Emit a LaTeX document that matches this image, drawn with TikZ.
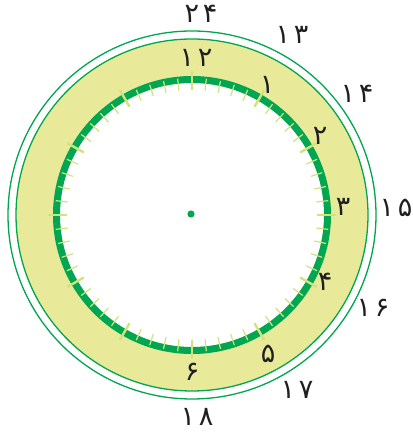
\documentclass[tikz,border=0pt]{standalone}
\usepackage{fontspec}
\newfontfamily\fa[LetterSpace=14]{DejaVu Sans}
\definecolor{ringgreen}{HTML}{00A650}
\definecolor{ringyellow}{HTML}{E8EA9A}
\definecolor{tickcol}{HTML}{D2E27E}
\begin{document}
\begin{tikzpicture}[x=1pt,y=1pt,
  lbl/.style={font=\fa\fontsize{27}{27}\selectfont, text=black!88, inner sep=0pt},
  thinring/.style={draw=ringgreen, line width=1.3pt}]
\useasboundingbox (-192,-220) rectangle (220,215);
% outer thin circle
\draw[thinring] (0,0) circle (184);
% yellow band with green edge
\fill[ringyellow] (0,0) circle (176);
\draw[thinring] (0,0) circle (176);
\fill[white] (0,0) circle (132);
% thick green ring
\draw[ringgreen, line width=7pt] (0,0) circle (135.5);
% minute ticks
\foreach \i in {0,...,59}{
  \draw[tickcol, line width=1.2pt] (\i*6:125) -- (\i*6:137);
}
% hour ticks
\foreach \i in {0,...,11}{
  \draw[tickcol, line width=2.4pt] (\i*30:125) -- (\i*30:144);
}
% centre dot
\fill[ringgreen] (-1,1) circle (3.6);
% inner labels
\node[lbl] (h12) at (4,157) {۱۲};
\node[lbl] (h1) at (75,130) {۱};
\node[lbl] (h2) at (128,79) {۲};
\node[lbl] (h3) at (151,8) {۳};
\node[lbl] (h4) at (133,-67) {۴};
\node[lbl] (h5) at (76,-139) {۵};
\node[lbl] (h6) at (0,-157) {۶};
% outer labels
\node[lbl] (h24) at (9,201) {۲۴};
\node[lbl] (h13) at (100,180) {۱۳};
\node[lbl] (h14) at (165,121) {۱۴};
\node[lbl] (h15) at (204,7) {۱۵};
\node[lbl] (h16) at (181,-93) {۱۶};
\node[lbl] (h17) at (105,-175) {۱۷};
\node[lbl] (h18) at (5,-202) {۱۸};
\end{tikzpicture}
\end{document}
